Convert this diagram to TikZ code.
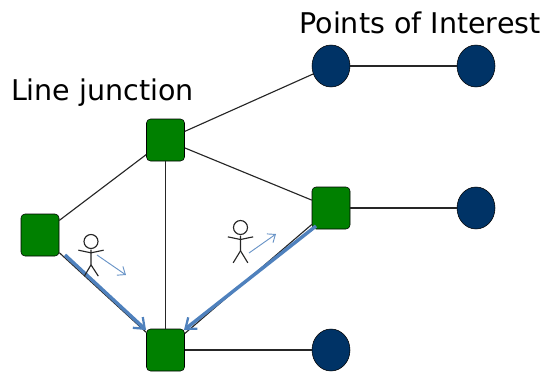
\documentclass[tikz,border=0pt]{standalone}
\usepackage{fontspec}
\setmainfont{DejaVu Sans}
\usetikzlibrary{arrows.meta, shapes.geometric}
\definecolor{junctiongreen}{HTML}{008000}
\definecolor{poinavy}{HTML}{003366}
\definecolor{walkblue}{HTML}{4F81BD}
\tikzstyle{junction} = [
  rectangle,
  rounded corners=3pt,
  minimum width=28.5pt,
  minimum height=31.5pt,
  inner sep=0,
  draw=black,
  fill=junctiongreen
]
\tikzstyle{poi} = [
  ellipse,
  minimum width=28.5pt,
  minimum height=31.5pt,
  inner sep=0,
  draw=black,
  fill=poinavy
]
\tikzstyle{label} = [
  font=\fontsize{21.4pt}{26pt}\selectfont,
  inner sep=0,
  text=black
]
\tikzstyle{link} = [
  draw=black!85,
  line width=0.85pt
]
\tikzstyle{route} = [
  draw=walkblue,
  line width=2.6pt,
  -{Straight Barb[length=7pt,width=11pt,line width=1.7pt]}
]
\tikzstyle{heading} = [
  draw=walkblue!85,
  line width=0.7pt,
  -{Straight Barb[length=5pt,width=8pt]}
]
\tikzstyle{figure} = [
  draw=black!85,
  line width=0.85pt
]
\begin{document}
\begin{tikzpicture}[x=0.75pt,y=-0.75pt]

    \useasboundingbox (0,0) rectangle (546,372);

    \node (left) [junction] at (40,235) {};
    \node (top) [junction] at (165.5,140) {};
    \node (right) [junction] at (331,208) {};
    \node (bottom) [junction] at (165.5,350) {};
    \node (poia) [poi] at (331,66) {};
    \node (poib) [poi] at (476,66) {};
    \node (poic) [poi] at (476,208) {};
    \node (poid) [poi] at (331,350) {};

    \node (junctionlabel) [label] at (102.5,92.5) {Line junction};
    \node (poilabel) [label] at (420,22.5) {Points of Interest};

    \draw [link] (left) -- (top);
    \draw [link] (left) -- (bottom);
    \draw [link] (top) -- (bottom);
    \draw [link] (top) -- (right);
    \draw [link] (top) -- (poia);
    \draw [link] (right) -- (bottom);
    \draw [link] (right) -- (poic);
    \draw [link] (poia) -- (poib);
    \draw [link] (bottom) -- (poid);

    \coordinate (leftstart) at (65,255);
    \coordinate (leftend) at (146,330);
    \coordinate (rightstart) at (316,226);
    \coordinate (rightend) at (184,330);
    \draw [route] (leftstart) -- (leftend);
    \draw [route] (rightstart) -- (rightend);

    % walker next to the left route
    \coordinate (walkera) at (91,241.5);
    \draw [figure] (walkera) circle [x radius=7, y radius=7];
    \draw [figure] ([yshift=-6pt]walkera) -- ([yshift=-17.5pt]walkera) -- ([xshift=-5pt,yshift=-26pt]walkera);
    \draw [figure] ([yshift=-17.5pt]walkera) -- ([xshift=5.5pt,yshift=-26pt]walkera);
    \draw [figure] ([xshift=-9.5pt,yshift=-6.5pt]walkera) -- ([yshift=-8.5pt]walkera) -- ([xshift=9.5pt,yshift=-6.5pt]walkera);
    \coordinate (headinga) at (97,255);
    \coordinate (headingaend) at (126,275);
    \draw [heading] (headinga) -- (headingaend);

    % walker next to the right route
    \coordinate (walkerb) at (240.5,227.5);
    \draw [figure] (walkerb) circle [x radius=7, y radius=7];
    \draw [figure] ([yshift=-6pt]walkerb) -- ([yshift=-17.5pt]walkerb) -- ([xshift=-5.5pt,yshift=-26.5pt]walkerb);
    \draw [figure] ([yshift=-17.5pt]walkerb) -- ([xshift=5.5pt,yshift=-26.5pt]walkerb);
    \draw [figure] ([xshift=-9.5pt,yshift=-7pt]walkerb) -- ([yshift=-9pt]walkerb) -- ([xshift=9.5pt,yshift=-7pt]walkerb);
    \coordinate (headingb) at (249,253);
    \coordinate (headingbend) at (276,234);
    \draw [heading] (headingb) -- (headingbend);

  \end{tikzpicture}
\end{document}
